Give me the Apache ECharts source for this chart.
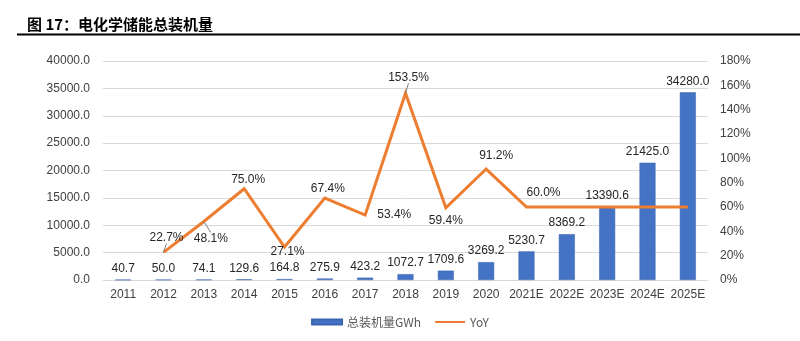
<!DOCTYPE html>
<html>
<head>
<meta charset="utf-8">
<script src="https://cdn.jsdelivr.net/npm/echarts@6/dist/echarts.min.js"></script>
<style>
  html, body { margin: 0; padding: 0; background: #fff; }
  #chart { width: 800px; height: 341px; }
</style>
</head>
<body>
<div id="chart"></div>
<script>
// Categories (years, E = estimate)
const years = ['2011', '2012', '2013', '2014', '2015', '2016', '2017', '2018', '2019', '2020',
  '2021E', '2022E', '2023E', '2024E', '2025E'];
// Cumulative installed electrochemical storage capacity
const capacity = [40.7, 50.0, 74.1, 129.6, 164.8, 275.9, 423.2, 1072.7, 1709.6, 3269.2,
  5230.7, 8369.2, 13390.6, 21425.0, 34280.0];
// Year-on-year growth, %
const yoy = [null, 22.7, 48.1, 75.0, 27.1, 67.4, 53.4, 153.5, 59.4, 91.2, 60.0, 60.0, 60.0, 60.0, 60.0];
// Which growth points carry a label
const yoyLabelled = [false, true, true, true, true, true, true, true, true, true, true, false, false, false, false];

const leftTicks = { min: 0, max: 40000, interval: 5000 };
const rightTicks = { min: 0, max: 180, interval: 20 };

// Label placement for growth values: [position, dx, dy, leader line]
const yoyLabelPlace = {
  1: ['top', 3, -4, true],
  2: ['bottom', 7, 6, true],
  3: ['top', 4, 2, false],
  4: ['bottom', 3, -6, false],
  5: ['top', 3, 2, false],
  6: ['right', 7, 0, false],
  7: ['top', 3, -5, true],
  8: ['bottom', 0, 2, false],
  9: ['top', 10, -2, false],
  10: ['top', 17, -3, false]
};

const FONT = '"Liberation Sans", Arial, sans-serif';
const CJK = '"Noto Sans CJK SC", "Liberation Sans", sans-serif';

const chart = echarts.init(document.getElementById('chart'), null, { renderer: 'canvas' });

const yoyData = yoy.map((v, i) => {
  if (v === null) return '-';
  const item = { value: v };
  const p = yoyLabelPlace[i];
  if (yoyLabelled[i] && p) {
    item.label = { show: true, position: p[0] };
    item.labelLine = { show: p[3] };
  } else {
    item.label = { show: false };
  }
  return item;
});

chart.setOption({
  animation: false,
  backgroundColor: '#ffffff',
  title: {
    text: '图 17：电化学储能总装机量',
    left: 22,
    top: 12,
    textStyle: { fontFamily: CJK, fontSize: 15, fontWeight: 'bold', color: '#000' }
  },
  graphic: [{
    type: 'line',
    shape: { x1: 17, y1: 34.5, x2: 800, y2: 34.5 },
    style: { stroke: '#000', lineWidth: 2 }
  }],
  legend: {
    bottom: 8,
    left: 'center',
    itemGap: 14,
    itemWidth: 30,
    itemHeight: 5,
    textStyle: { fontFamily: CJK, fontSize: 12, color: '#595959' },
    data: [
      { name: '总装机量GWh', icon: 'rect' },
      { name: 'YoY', icon: 'path://M0,4 L30,4 L30,6 L0,6 Z', itemStyle: { color: '#ed7d31' } }
    ]
  },
  grid: { left: 103, right: 92, top: 61, bottom: 61 },
  xAxis: {
    type: 'category',
    data: years,
    axisLine: { lineStyle: { color: '#d9d9d9', width: 1 } },
    axisTick: { show: false },
    axisLabel: { fontFamily: FONT, fontSize: 12, color: '#404040', margin: 9, interval: 0 }
  },
  yAxis: [
    {
      type: 'value',
      min: leftTicks.min, max: leftTicks.max, interval: leftTicks.interval,
      axisLine: { show: false },
      axisTick: { show: false },
      splitLine: { lineStyle: { color: '#d9d9d9', width: 1 } },
      axisLabel: {
        fontFamily: FONT, fontSize: 12, color: '#404040', margin: 13,
        formatter: v => v.toFixed(1)
      }
    },
    {
      type: 'value',
      min: rightTicks.min, max: rightTicks.max, interval: rightTicks.interval,
      axisLine: { show: false },
      axisTick: { show: false },
      splitLine: { show: false },
      axisLabel: {
        fontFamily: FONT, fontSize: 12, color: '#404040', margin: 12,
        formatter: v => v + '%'
      }
    }
  ],
  series: [
    {
      name: '总装机量GWh',
      type: 'bar',
      yAxisIndex: 0,
      data: capacity,
      barWidth: 16,
      itemStyle: { color: '#4472c4', borderColor: '#3a64b0', borderWidth: 0.5 },
      label: {
        show: true, position: 'top', distance: 5,
        fontFamily: FONT, fontSize: 12, color: '#262626',
        formatter: p => p.value.toFixed(1)
      },
      z: 2
    },
    {
      name: 'YoY',
      type: 'line',
      yAxisIndex: 1,
      data: yoyData,
      showSymbol: true,
      symbol: 'circle',
      symbolSize: 0.1,
      lineStyle: { color: '#ed7d31', width: 3, join: 'miter' },
      itemStyle: { color: '#ed7d31' },
      label: {
        show: true,
        fontFamily: FONT, fontSize: 12, color: '#262626',
        formatter: p => p.value.toFixed(1) + '%'
      },
      labelLine: { show: false, lineStyle: { color: '#7f7f7f', width: 1 }, length2: 0 },
      labelLayout: p => {
        const place = yoyLabelPlace[p.dataIndex];
        if (!place) return {};
        return { dx: place[1], dy: place[2] };
      },
      z: 3
    }
  ]
});
</script>
</body>
</html>
